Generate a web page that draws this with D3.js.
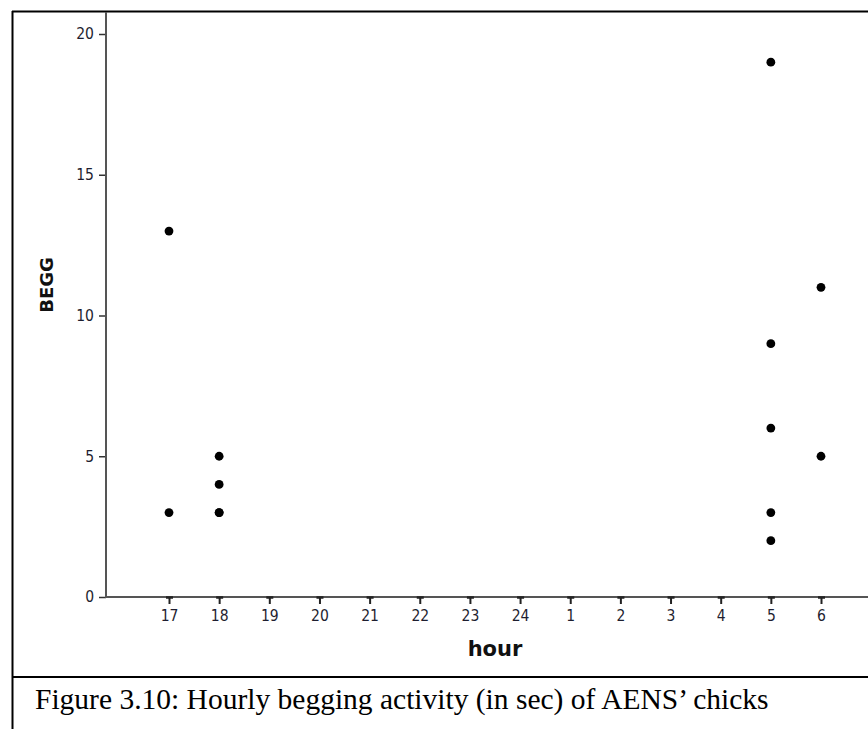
<!DOCTYPE html>
<html>
<head>
<meta charset="utf-8">
<script src="https://cdn.jsdelivr.net/npm/d3@7"></script>
<style>
  html, body { margin: 0; padding: 0; background: #fff; }
  svg { display: block; }
</style>
</head>
<body>
<svg id="chart" width="868" height="729"></svg>
<script>
// Hour of observation (evening through next morning) and begging duration in seconds
const hours = ["17", "18", "19", "20", "21", "22", "23", "24", "1", "2", "3", "4", "5", "6"];
const obsHour = ["17", "17", "18", "18", "18", "18", "5", "5", "5", "5", "5", "6", "6"];
const obsBegg = [13, 3, 5, 4, 3, 3, 19, 9, 6, 3, 2, 11, 5];
const yTicks = [0, 5, 10, 15, 20];
const caption = "Figure 3.10: Hourly begging activity (in sec) of AENS\u2019 chicks";

const svg = d3.select("#chart");
const axisFont = "'DejaVu Sans Condensed', 'DejaVu Sans', sans-serif";

const x = d3.scalePoint().domain(hours).range([169, 821]);
const y = d3.scaleLinear().domain([0, 20]).range([597, 34]);
const axisX0 = 106;

// frame around the chart and the caption cell
svg.append("line").attr("x1", 12).attr("x2", 868).attr("y1", 11.5).attr("y2", 11.5)
  .attr("stroke", "#000").attr("stroke-width", 2);
svg.append("line").attr("x1", 12).attr("x2", 868).attr("y1", 677).attr("y2", 677)
  .attr("stroke", "#000").attr("stroke-width", 2);
svg.append("line").attr("x1", 12.5).attr("x2", 12.5).attr("y1", 11).attr("y2", 729)
  .attr("stroke", "#000").attr("stroke-width", 2);

// y axis
const gy = svg.append("g").attr("transform", `translate(${axisX0},0)`)
  .call(d3.axisLeft(y).tickValues(yTicks).tickSize(7).tickPadding(5).tickSizeOuter(0));
gy.select(".domain").remove();
gy.append("line").attr("x1", 0).attr("x2", 0).attr("y1", 12).attr("y2", 598)
  .attr("stroke", "#555").attr("stroke-width", 2);
gy.selectAll(".tick line").attr("stroke", "#333").attr("stroke-width", 1.5);
gy.selectAll(".tick text").attr("fill", "#1e1e30").style("font-family", axisFont).style("font-size", "15.5px");

// x axis
const gx = svg.append("g").attr("transform", "translate(0,597)")
  .call(d3.axisBottom(x).tickSize(7).tickPadding(6).tickSizeOuter(0));
gx.select(".domain").remove();
gx.insert("line", ":first-child").attr("x1", axisX0).attr("x2", 868).attr("y1", 0).attr("y2", 0)
  .attr("stroke", "#555").attr("stroke-width", 2);
gx.selectAll(".tick line").attr("stroke", "#222").attr("stroke-width", 2);
gx.selectAll(".tick").append("line")
  .attr("x1", -3.5).attr("x2", 3.5).attr("y1", 0.5).attr("y2", 0.5)
  .attr("stroke", "#222").attr("stroke-width", 2.5);
gx.selectAll(".tick text").attr("fill", "#1e1e30").style("font-family", axisFont).style("font-size", "15.5px");

// points
svg.append("g").selectAll("circle")
  .data(obsBegg.map((v, i) => ({ h: obsHour[i], v })))
  .join("circle")
  .attr("cx", d => x(d.h))
  .attr("cy", d => y(d.v))
  .attr("r", 4.4)
  .attr("fill", "#000");

// axis titles
svg.append("text")
  .attr("x", (x("17") + x("6")) / 2).attr("y", 656)
  .attr("text-anchor", "middle")
  .style("font-family", "'DejaVu Sans', sans-serif").style("font-weight", "bold").style("font-size", "21px")
  .attr("fill", "#111")
  .text("hour");
svg.append("text")
  .attr("transform", "translate(53,285) rotate(-90)")
  .attr("text-anchor", "middle")
  .style("font-family", "'DejaVu Sans', sans-serif").style("font-weight", "bold").style("font-size", "18px")
  .attr("fill", "#111")
  .text("BEGG");

// caption
svg.append("text")
  .attr("x", 35).attr("y", 709)
  .style("font-family", "'Liberation Serif', 'Times New Roman', serif").style("font-size", "29.5px")
  .attr("fill", "#000")
  .text(caption);
</script>
</body>
</html>
